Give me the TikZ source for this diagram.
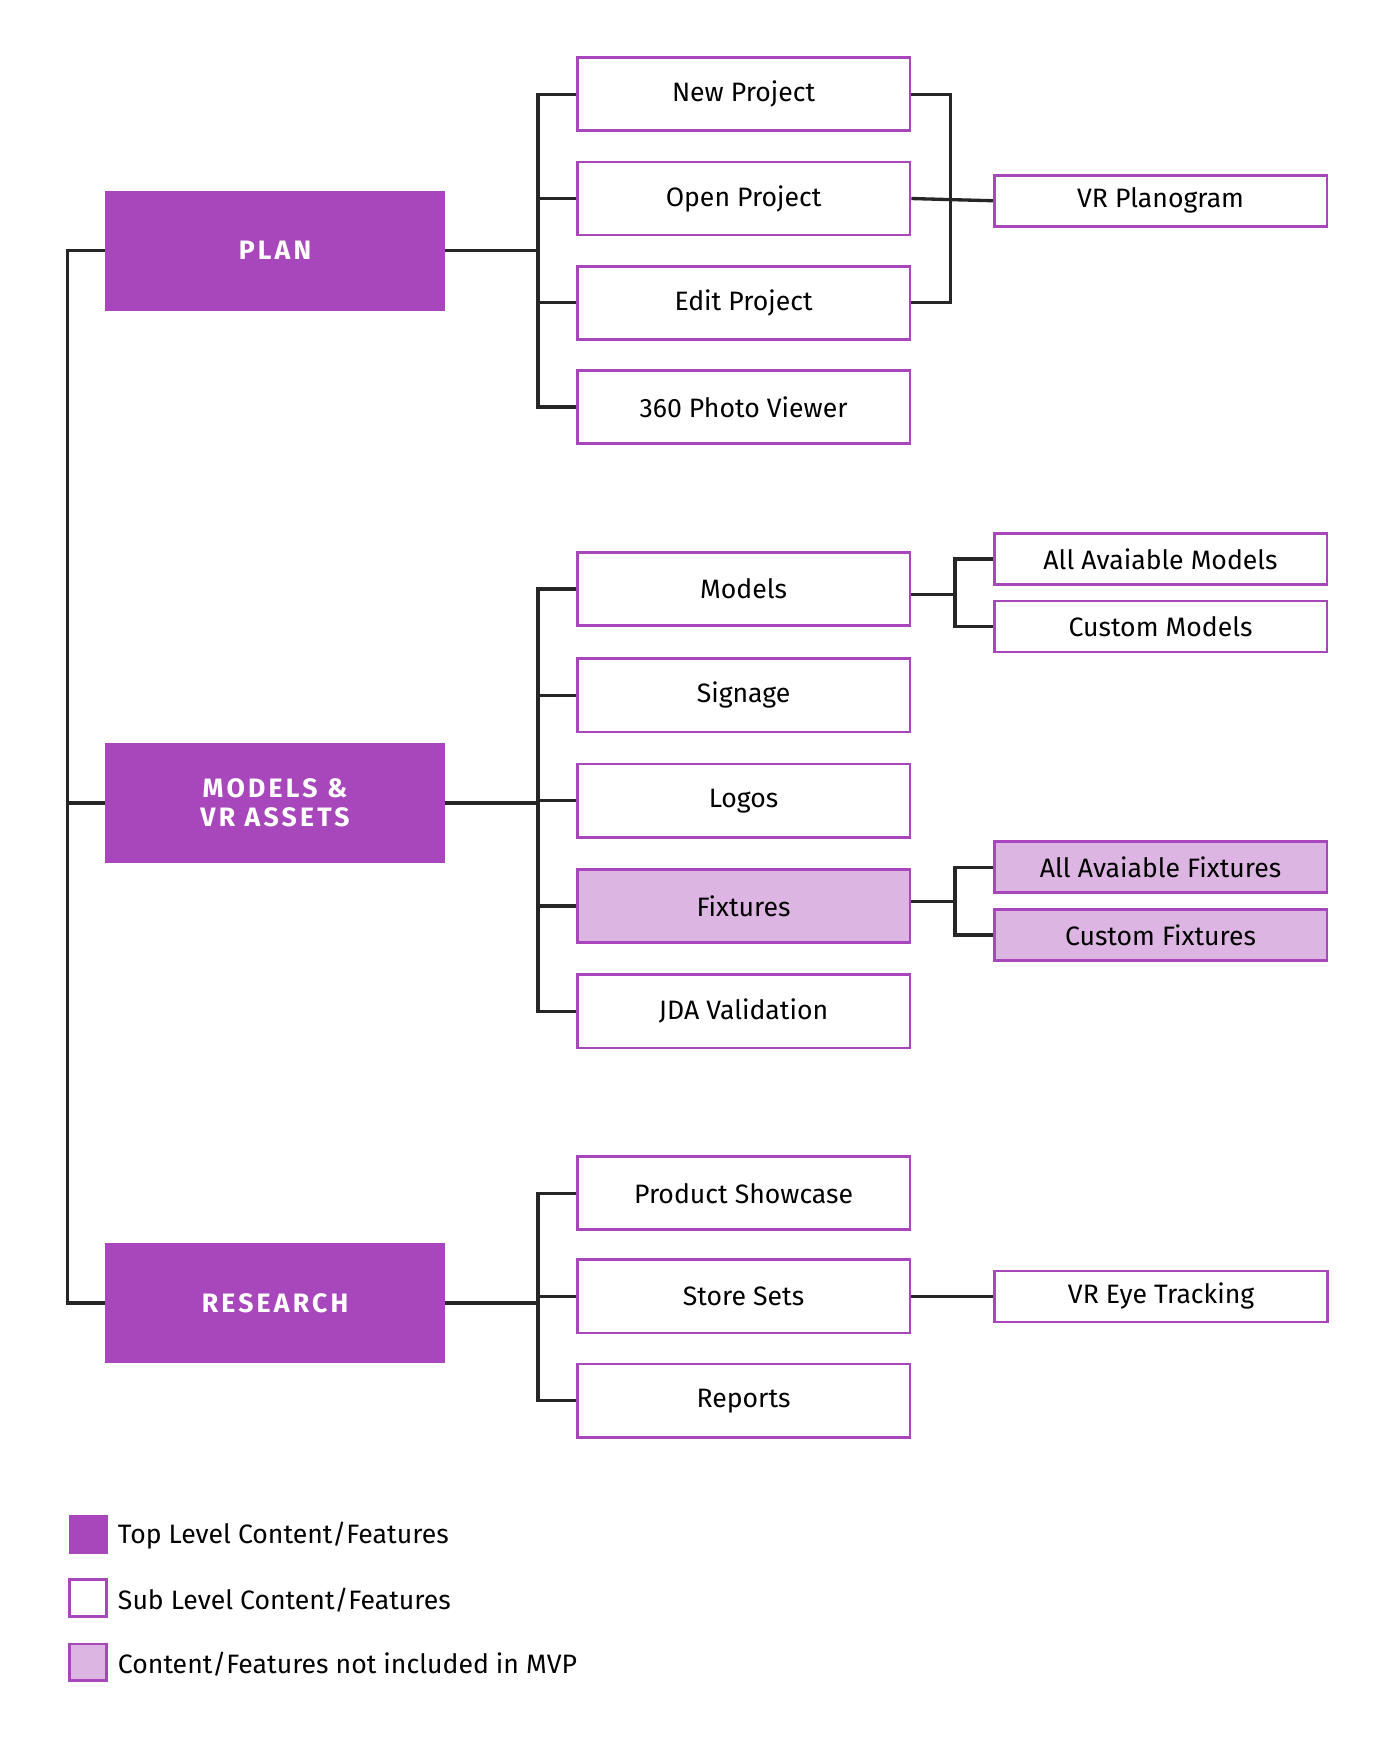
\documentclass[tikz,border=0pt]{standalone}
\usepackage{fontspec}
\setmainfont{Fira Sans}
\definecolor{pur}{HTML}{A847BC}
\definecolor{lpur}{HTML}{DDB5E3}
\begin{document}
\begin{tikzpicture}[x=0.5pt,y=-0.5pt,
  top/.style={fill=pur,draw=none,minimum width=153pt,minimum height=54pt,text=white,font=\fontsize{12}{13}\selectfont\bfseries\addfontfeature{LetterSpace=12},align=center,inner sep=0},
  sub/.style={draw=pur,line width=1.25pt,fill=white,minimum width=150pt,minimum height=33pt,font=\fontsize{12}{14}\selectfont,inner sep=0},
  leaf/.style={sub,minimum height=23pt},
  nmvp/.style={fill=lpur},
  con/.style={line width=1.5pt,black!85}]
\useasboundingbox (0,0) rectangle (1262,1569);
% top
\node[top] (plan) at (248,226) {PLAN};
\node[top] (models) at (248,724) {MODELS \&\\VR ASSETS};
\node[top] (research) at (248,1175) {RESEARCH};
% subs
\node[sub] (np) at (670.5,85) {New Project};
\node[sub] (op) at (670.5,179) {Open Project};
\node[sub] (ep) at (670.5,273) {Edit Project};
\node[sub] (pv) at (670.5,367) {360 Photo Viewer};
\node[sub] (mo) at (670.5,531) {Models};
\node[sub] (si) at (670.5,627) {Signage};
\node[sub] (lo) at (670.5,722) {Logos};
\node[sub,nmvp] (fx) at (670.5,817) {Fixtures};
\node[sub] (jda) at (670.5,912) {JDA Validation};
\node[sub] (ps) at (670.5,1076) {Product Showcase};
\node[sub] (ss) at (670.5,1169) {Store Sets};
\node[sub] (rp) at (670.5,1263) {Reports};
% leaves
\node[leaf] (vrp) at (1046.5,181) {VR Planogram};
\node[leaf] (am) at (1046.5,504) {All Avaiable Models};
\node[leaf] (cm) at (1046.5,565) {Custom Models};
\node[leaf,nmvp] (af) at (1046.5,782) {All Avaiable Fixtures};
\node[leaf,nmvp] (cf) at (1046.5,843) {Custom Fixtures};
\node[leaf] (vet) at (1047,1169) {VR Eye Tracking};
% trunk
\draw[con] (plan.west) -- ++(-34,0) |- (research.west);
\draw[con] (models.west) -- ++(-34,0);
% plan bus
\coordinate (b1) at (485,226);
\draw[con] (plan.east) -- (b1);
\draw[con] (np.west) -| (b1) |- (pv.west);
\draw[con] (b1 |- op.west) -- (op.west);
\draw[con] (b1 |- ep.west) -- (ep.west);
\coordinate (b1r) at (857,180);
\draw[con] (np.east) -| (b1r) |- (ep.east);
\draw[con] (op.east) -- (b1r) -- (vrp.west);
% models bus
\coordinate (b2) at (485,724);
\draw[con] (models.east) -- (b2);
\draw[con] (mo.west) -| (b2) |- (jda.west);
\draw[con] (b2 |- si.west) -- (si.west);
\draw[con] (b2 |- lo.west) -- (lo.west);
\draw[con] (b2 |- fx.west) -- (fx.west);
\coordinate (b2m) at (861,536);
\draw[con] (mo.east |- b2m) -- (b2m);
\draw[con] (am.west) -| (b2m) |- (cm.west);
\coordinate (b2f) at (861,813);
\draw[con] (fx.east |- b2f) -- (b2f);
\draw[con] (af.west) -| (b2f) |- (cf.west);
% research bus
\coordinate (b3) at (485,1175);
\draw[con] (research.east) -- (b3);
\draw[con] (ps.west) -| (b3) |- (rp.west);
\draw[con] (b3 |- ss.west) -- (ss.west);
\draw[con] (ss.east) -- (vet.west);
% legend
\node[fill=pur,minimum size=17.5pt,inner sep=0] (l1) at (79.5,1383.5) {};
\node[draw=pur,line width=1.25pt,fill=white,minimum size=16.5pt,inner sep=0] (l2) at (79.5,1441) {};
\node[draw=pur,line width=1.25pt,fill=lpur,minimum size=16.5pt,inner sep=0] (l3) at (79.5,1499) {};
\node[anchor=west,font=\fontsize{12}{14}\selectfont,inner sep=0] (t1) at (106,1385) {Top Level Content/Features};
\node[anchor=west,font=\fontsize{12}{14}\selectfont,inner sep=0] (t2) at (106,1443) {Sub Level Content/Features};
\node[anchor=west,font=\fontsize{12}{14}\selectfont,inner sep=0] (t3) at (106,1501) {Content/Features not included in MVP};
\end{tikzpicture}
\end{document}
